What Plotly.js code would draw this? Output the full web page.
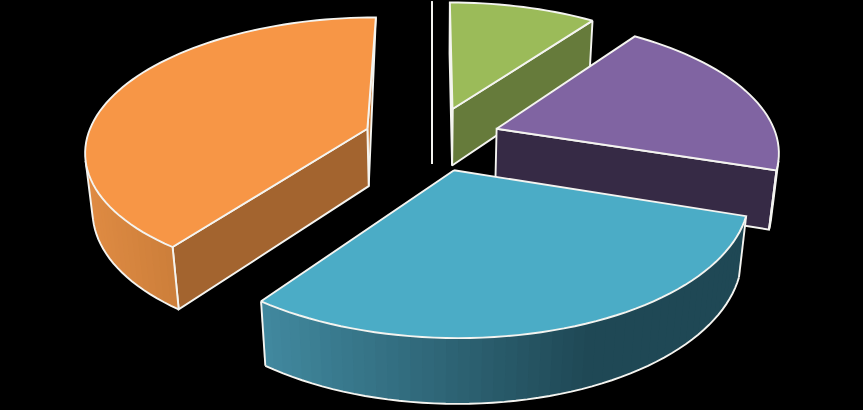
<!DOCTYPE html>
<html>
<head>
<meta charset="utf-8">
<script src="https://cdn.plot.ly/plotly-3.0.1.min.js"></script>
<style>html,body{margin:0;padding:0;background:#000;}#chart{width:863px;height:410px;}</style>
</head>
<body>
<div id="chart"></div>
<script>
// Data: shares of the pie, clockwise from 12 o'clock. The first two are empty slices.
const categories = ["A", "B", "C", "D", "E", "F"];
const values = [0, 0, 10, 20, 30, 40];
const topColors = ["#4f81bd", "#c0504d", "#9bbb59", "#8064a2", "#4bacc6", "#f79646"];
const sideColors = ["#000000", "#000000", "#667b3b", "#362a45", "#1f4855", "#a3642f"];
const endWallColors = ["#000000", "#000000", "#667b3b", "#362a45", "#1f4855", "#c97b38"];
const rimLeft = ["#000000", "#000000", "#667b3b", "#362a45", "#41899f", "#df8b43"];
const rimRight = ["#000000", "#000000", "#667b3b", "#362a45", "#1f4855", "#b56f2f"];
const drawOrder = [5, 0, 1, 2, 3, 4];

// Projection of the tilted, exploded pie
const cx = 432, cy = 138.6, fx = 1832, fy = 857, dist = 6.53, drop = 0.14, thick = 0.45, pull = 0.245;
const RIM_W = 1.9, LINE = "#f4f4f0", SHADE_SPAN = 0.68;

function project(X, Y, lower) {
  const D = dist - Y + (lower ? drop : 0);
  return [cx + fx * X / D, cy + fy * (Y + (lower ? thick : 0)) / D];
}
function polar(a, r) { return [r * Math.sin(a), -r * Math.cos(a)]; }
function mix(c1, c2, t) {
  const p = c => [1, 3, 5].map(i => parseInt(c.substr(i, 2), 16));
  const a = p(c1), b = p(c2);
  return "rgb(" + a.map((v, i) => Math.round(v + (b[i] - v) * t)).join(",") + ")";
}
function area(pts) {
  let s = 0;
  pts.forEach((p, i) => { const q = pts[(i + 1) % pts.length]; s += p[0] * q[1] - q[0] * p[1]; });
  return s;
}
const total = values.reduce((s, v) => s + v, 0);
let acc = 0;
const slices = values.map((v, i) => {
  const s = { i, a0: acc / total * 2 * Math.PI, a1: (acc + v) / total * 2 * Math.PI, last: acc + v === total };
  acc += v;
  const m = polar((s.a0 + s.a1) / 2, pull);
  s.ox = m[0]; s.oy = m[1];
  return s;
});
function rimPoint(s, a, lower) {
  const p = polar(a, 1);
  return project(s.ox + p[0], s.oy + p[1], lower);
}
function poly(pts, fill, lineColor, width, closed) {
  const xs = pts.map(p => p[0]), ys = pts.map(p => p[1]);
  if (closed) { xs.push(xs[0]); ys.push(ys[0]); }
  return {
    type: "scatter", mode: "lines", x: xs, y: ys, hoverinfo: "skip", showlegend: false,
    fill: fill ? "toself" : "none", fillcolor: fill || undefined,
    line: { color: lineColor || "rgba(0,0,0,0)", width: width, simplify: false }
  };
}
const traces = [];
drawOrder.forEach(k => {
  const s = slices[k];
  const apexT = project(s.ox, s.oy, false), apexB = project(s.ox, s.oy, true);
  const steps = Math.max(2, Math.round((s.a1 - s.a0) / (Math.PI / 90)));
  const angs = [];
  for (let j = 0; j <= steps; j++) angs.push(s.a0 + (s.a1 - s.a0) * j / steps);
  if (values[k] === 0) {
    const t = rimPoint(s, s.a0, false), b = rimPoint(s, s.a0, true);
    traces.push(poly([t, apexT, apexB, b], null, LINE, RIM_W, false));
    return;
  }
  // radial walls that face the viewer
  const wallEnd = s.last
    ? [rimPoint(s, s.a1, false), apexT, apexB]
    : [rimPoint(s, s.a1, false), apexT, apexB, rimPoint(s, s.a1, true)];
  const wallStart = [apexT, rimPoint(s, s.a0, false), rimPoint(s, s.a0, true), apexB];
  if (area(wallEnd) < 0 || s.last) traces.push(poly(wallEnd, endWallColors[k], LINE, RIM_W, true));
  if (area(wallStart) < 0) traces.push(poly(wallStart, sideColors[k], LINE, RIM_W, true));
  // outer wall: only bands that face the viewer, shaded band by band
  const xsAll = angs.map(a => rimPoint(s, a, false)[0]);
  const xmin = Math.min(...xsAll), xmax = Math.max(...xsAll);
  const visible = [];
  for (let j = 0; j < steps; j++) {
    const q = [rimPoint(s, angs[j], false), rimPoint(s, angs[j + 1], false), rimPoint(s, angs[j + 1], true), rimPoint(s, angs[j], true)];
    if (area(q) < 0) visible.push(j);
  }
  visible.forEach((j, n) => {
    const m = n === visible.length - 1 ? j + 1 : Math.min(j + 2, steps);   // bands overlap so no seam shows
    const t = ((rimPoint(s, angs[j], false)[0] + rimPoint(s, angs[j + 1], false)[0]) / 2 - xmin) / (xmax - xmin);
    const pp = [rimPoint(s, angs[j], false), rimPoint(s, angs[m], false), rimPoint(s, angs[m], true), rimPoint(s, angs[j], true)];
    traces.push(poly(pp, mix(rimLeft[k], rimRight[k], Math.min(1, t / SHADE_SPAN)), null, 0, true));
  });
  if (visible.length) {
    const v0 = visible[0], v1 = visible[visible.length - 1] + 1;
    const arc = [];
    for (let j = v0; j <= v1; j++) arc.push(rimPoint(s, angs[j], true));
    traces.push(poly(arc, null, LINE, RIM_W, false));
    traces.push(poly([rimPoint(s, angs[v0], false), rimPoint(s, angs[v0], true)], null, LINE, RIM_W, false));
    traces.push(poly([rimPoint(s, angs[v1], false), rimPoint(s, angs[v1], true)], null, LINE, RIM_W, false));
  }
  // top face
  traces.push(poly([apexT].concat(angs.map(a => rimPoint(s, a, false))), topColors[k], LINE, RIM_W, true));
});

const layout = {
  width: 863, height: 410, margin: { l: 0, r: 0, t: 0, b: 0 },
  paper_bgcolor: "#000", plot_bgcolor: "#000", showlegend: false,
  xaxis: { range: [0, 863], visible: false, fixedrange: true },
  yaxis: { range: [410, 0], visible: false, fixedrange: true }
};
Plotly.newPlot("chart", traces, layout, { displayModeBar: false, staticPlot: true });
</script>
</body>
</html>
